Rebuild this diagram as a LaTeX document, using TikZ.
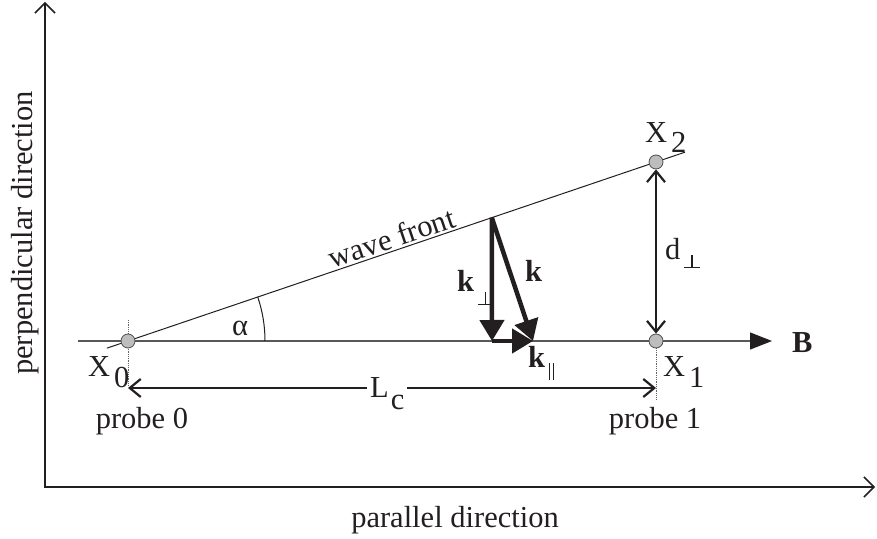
\documentclass[tikz,border=0pt]{standalone}
\usepackage{fontspec}
\setmainfont{Liberation Serif}
\usetikzlibrary{arrows.meta,positioning,calc}
\definecolor{ink}{HTML}{231F20}
\definecolor{probefill}{HTML}{BDBDBD}
\tikzset{
  lbl/.style={inner sep=1pt, text=ink, font=\fontsize{30.5}{34}\selectfont},
  probe/.style={circle, draw=ink!80, fill=probefill, line width=0.8pt,
    inner sep=0pt, minimum size=14pt},
  axis/.style={draw=ink, line width=1.5pt,
    {Straight Barb[length=10pt,width=20pt]}-{Straight Barb[length=10pt,width=20pt]}},
  field/.style={draw=ink!75, line width=1.2pt, -{Triangle[length=22pt,width=17pt,color=ink]}},
  front/.style={draw=ink, line width=1pt},
  gauge/.style={draw=ink, line width=2.2pt,
    {Straight Barb[length=11pt,width=18pt]}-{Straight Barb[length=11pt,width=18pt]}},
  vec/.style={draw=ink, line width=4.5pt, -{Triangle[length=21pt,width=24pt]}},
  guide/.style={draw=ink!70, densely dotted, line width=0.8pt},
}
\newcommand{\idx}[3][11pt]{#2\kern4pt\raisebox{-#1}{#3}}
\newcommand{\perpsym}{\rlap{\kern7pt\rule{1.2pt}{13pt}}\rule{15.2pt}{1.2pt}}

\begin{document}
\begin{tikzpicture}[x=1pt, y=1pt, every node/.style={lbl}]
    \useasboundingbox (0,0) rectangle (877,538);
    % axes
    \coordinate (ytop) at (45,536);
    \coordinate (O) at (45,51);
    \coordinate (xend) at (875,51);
    \draw[axis] (ytop) -- (O) -- (xend);
    \node[anchor=base, rotate=90] (perp) at (32,305) {perpendicular direction};
    \node[anchor=base] (par) at (455,11) {parallel direction};
    % probes and field line
    \coordinate (p0) at (128,197);
    \coordinate (p1) at (656,197);
    \coordinate (p2) at (656,376);
    \coordinate (Bstart) at (78,197);
    \coordinate (Btip) at (772,197);
    \draw[field] (Bstart) -- (Btip);
    \node[anchor=base west] (B) at (791,185) {\textbf{B}};
    \draw[front] ($(p0)!-0.04!(p2)$) -- ($(p0)!1.055!(p2)$)
      node[pos=0.5, sloped, above=1pt] {wave front};
    \draw[front] ($(p0)+(137,0)$) arc[start angle=0, end angle=18.7, radius=137pt];
    \node[anchor=base] (alpha) at (240,202) {α};
    \draw[guide] ($(p0)+(0,21)$) -- ($(p0)+(0,-44)$);
    \draw[guide] (p1) -- ($(p1)+(0,-59)$);
    \node[probe] (X0) at (p0) {};
    \node[probe] (X1) at (p1) {};
    \node[probe] (X2) at (p2) {};
    \node[anchor=base west] (lx0) at (87,161) {\idx{X}{0}};
    \node[anchor=base west] (lx1) at (662,161) {\idx{X}{1}};
    \node[anchor=base west] (lx2) at (644,395) {\idx[10pt]{X}{2}};
    % distances
    \coordinate (L0) at (128,150);
    \coordinate (L1) at (656,150);
    \draw[gauge] (L0) -- (L1);
    \node[anchor=base west, fill=white, inner xsep=3pt] (Lc) at (367,140) {L\kern2pt\raisebox{-12pt}{c}};
    \draw[gauge] (X1) -- (X2);
    \node[anchor=base west] (dperp) at (664,278) {\idx[8pt]{d}{\perpsym}};
    \node[anchor=base] (pr0) at (142,110) {probe 0};
    \node[anchor=base] (pr1) at (655,110) {probe 1};
    % wave vector
    \coordinate (K) at ($(p0)!0.689!(p2)$);
    \coordinate (Kf) at (492,197);
    \coordinate (Kt) at (533,197);
    \draw[vec] (K) -- (Kf);
    \draw[vec] (Kf) -- (Kt);
    \draw[vec] (K) -- (Kt);
    \node[anchor=base west] (kperp) at (456,246) {\idx[13pt]{\textbf{k}}{\perpsym}};
    \node[anchor=base west] (k) at (524,256) {\textbf{k}};
    \node[anchor=base west] (kpar) at (527,170) {\idx[12pt]{\textbf{k}}{\rule{1pt}{17pt}\kern3pt\rule{1pt}{17pt}}};
\end{tikzpicture}
\end{document}
